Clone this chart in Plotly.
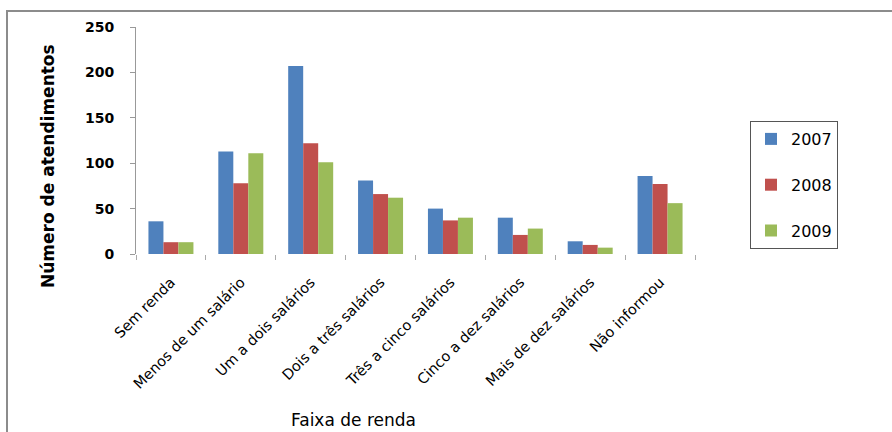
import plotly.graph_objects as go

# Income brackets and yearly service counts
categorias = [
    "Sem renda",
    "Menos de um salário",
    "Um a dois salários",
    "Dois a três salários",
    "Três a cinco salários",
    "Cinco a dez salários",
    "Mais de dez salários",
    "Não informou",
]
anos = ["2007", "2008", "2009"]
valores_2007 = [36, 113, 207, 81, 50, 40, 14, 86]
valores_2008 = [13, 78, 122, 66, 37, 21, 10, 77]
valores_2009 = [13, 111, 101, 62, 40, 28, 7, 56]
cores = ["#4F81BD", "#C0504D", "#9BBB59"]
y_ticks = [0, 50, 100, 150, 200, 250]

FONT = "DejaVu Sans"

fig = go.Figure()
for ano, vals, cor in zip(anos, [valores_2007, valores_2008, valores_2009], cores):
    fig.add_trace(go.Bar(
        x=categorias, y=vals, name=ano, legendgroup=ano,
        marker=dict(color=cor, line=dict(width=0)),
    ))

# plot area geometry in pixels
W, H = 892, 432
L, R, T, B = 136, 197, 27, 178
pw = W - L - R
ph = H - T - B


def px_x(x):
    return (x - L) / pw


def px_y(y):
    return (H - B - y) / ph


fig.update_layout(
    width=W, height=H,
    margin=dict(l=L, r=R, t=T, b=B),
    paper_bgcolor="white", plot_bgcolor="white",
    barmode="group", bargap=0.356, bargroupgap=0,
    font=dict(family=FONT, color="black"),
    showlegend=True,
    legend=dict(
        x=px_x(750), xanchor="left", y=px_y(121), yanchor="top",
        bordercolor="#555555", borderwidth=1,
        font=dict(family=FONT, size=16, color="black"),
        tracegroupgap=22,
        itemwidth=30,
        entrywidth=50,
    ),
    xaxis=dict(
        type="category",
        tickson="boundaries",
        ticks="outside", ticklen=5, tickcolor="#aaaaaa",
        showline=False, showgrid=False, zeroline=False,
        tickangle=-45,
        ticklabelstandoff=16,
        tickfont=dict(family=FONT, size=14.5, color="black"),
    ),
    yaxis=dict(
        range=[0, 250], tickvals=y_ticks,
        ticks="outside", ticklen=5, tickcolor="#999999",
        showline=True, linecolor="#999999", linewidth=1,
        showgrid=False, zeroline=False,
        ticklabelstandoff=13,
        tickfont=dict(family=FONT, size=14, color="black", weight="bold"),
    ),
    annotations=[
        dict(
            text="<b>Número de atendimentos</b>", textangle=-90,
            xref="paper", yref="paper", x=px_x(48), y=px_y(166),
            xanchor="center", yanchor="middle", showarrow=False,
            font=dict(family=FONT, size=17, color="black"),
        ),
        dict(
            text="Faixa de renda",
            xref="paper", yref="paper", x=px_x(353), y=px_y(420),
            xanchor="center", yanchor="middle", showarrow=False,
            font=dict(family=FONT, size=17, color="black"),
        ),
    ],
    shapes=[
        dict(
            type="rect", xref="paper", yref="paper",
            x0=px_x(7), y0=px_y(11), x1=px_x(W + 20), y1=px_y(H + 20),
            line=dict(color="#8c8c8c", width=2), fillcolor="rgba(0,0,0,0)",
            layer="below",
        )
    ],
)

fig.write_html("out.html")
